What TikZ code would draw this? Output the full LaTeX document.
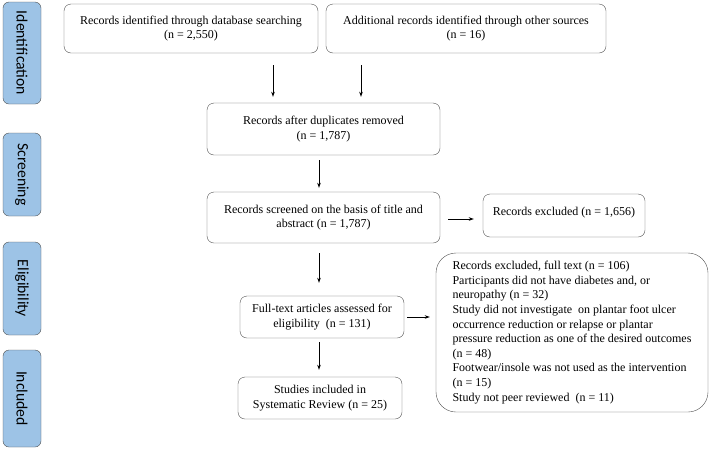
\documentclass[tikz,border=0pt]{standalone}
\usepackage{fontspec}
\setmainfont{Liberation Serif}
\newfontfamily\sidefont{Carlito}
\usetikzlibrary{positioning,arrows.meta}

\definecolor{sideblue}{RGB}{157,195,230}
\definecolor{edgegrey}{RGB}{80,80,80}

\tikzset{
  box/.style={draw=edgegrey, rounded corners=7pt, align=center, inner sep=2pt,
              font=\fontsize{12}{14.5}\selectfont},
  side/.style={draw=edgegrey, fill=sideblue, rounded corners=6pt, rotate=-90,
               minimum height=38pt, font=\sidefont\fontsize{15.7}{18}\selectfont},
  arr/.style={-{Stealth[length=5pt,width=3.5pt]}, line width=0.8pt}
}

\begin{document}
\begin{tikzpicture}[x=1pt, y=-1pt]
                \useasboundingbox (0,0) rectangle (709,448);
                % phase labels
                \node [side, minimum width=102pt] (ident) at (22,53) {Identification};
                \node [side, minimum width=83pt] (screen) at (22,174.5) {Screening};
                \node [side, minimum width=93pt] (elig) at (22,288.5) {Eligibility};
                \node [side, minimum width=97pt] (incl) at (22,398.5) {Included};
                % boxes
                \node [box, minimum width=254pt, minimum height=49pt] (database) at (191,28.5) {Records identified through database searching\\(n = 2,550)};
                \node [box, minimum width=280pt, minimum height=49pt] (other) at (466,28.5) {Additional records identified through other sources\\(n = 16)};
                \node [box, minimum width=233pt, minimum height=52pt] (dupl) at (323.5,129) {Records after duplicates removed\\(n = 1,787)};
                \node [box, minimum width=233pt, minimum height=51pt] (screened) at (323.5,217.5) {Records screened on the basis of title and\\abstract (n = 1,787)};
                \node [box, minimum width=162pt, minimum height=43pt, text depth=8pt] (excl) at (564,215.5) {Records excluded (n = 1,656)};
                \node [box, minimum width=164pt, minimum height=42pt] (fulltext) at (322,317) {Full-text articles assessed for\\eligibility~ (n = 131)};
                \node [box, rounded corners=20pt, minimum width=272pt, minimum height=159pt, align=left,
                       font=\fontsize{12}{14.6}\selectfont] (exclfull) at (572,332.5) {Records excluded, full text (n = 106)\\Participants did not have diabetes and, or\\neuropathy (n = 32)\\Study did not investigate~ on plantar foot ulcer\\occurrence reduction or relapse or plantar\\pressure reduction as one of the desired outcomes\\(n = 48)\\Footwear/insole was not used as the intervention\\(n = 15)\\Study not peer reviewed~ (n = 11)};
                \node [box, minimum width=164pt, minimum height=42pt] (studies) at (320,398) {Studies included in\\Systematic Review (n = 25)};
                % arrows
                \coordinate (a1) at (273,0);
                \coordinate (a2) at (361,0);
                \coordinate (amid) at (319,0);
                \draw [arr, shorten <=12pt, shorten >=6pt] (a1 |- database.south) -- (a1 |- dupl.north);
                \draw [arr, shorten <=12pt, shorten >=6pt] (a2 |- other.south) -- (a2 |- dupl.north);
                \draw [arr, shorten <=5pt, shorten >=4pt] (amid |- dupl.south) -- (amid |- screened.north);
                \draw [arr, shorten <=8pt, shorten >=9pt] ([yshift=-1.5pt]screened.east) -- ([yshift=-1.5pt]screened.east -| excl.west);
                \draw [arr, shorten <=10pt, shorten >=13pt] (amid |- screened.south) -- (amid |- fulltext.north);
                \draw [arr, shorten <=3pt, shorten >=6pt] (fulltext.east) -- (fulltext.east -| exclfull.west);
                \draw [arr, shorten <=4pt, shorten >=7pt] (amid |- fulltext.south) -- (amid |- studies.north);
            \end{tikzpicture}
\end{document}
